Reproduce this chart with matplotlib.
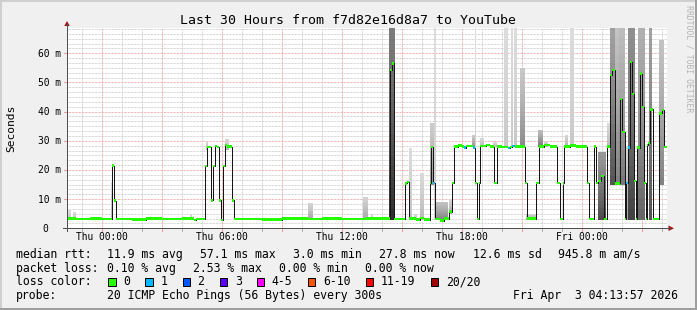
import matplotlib
matplotlib.use("Agg")
import matplotlib.pyplot as plt
import numpy as np
from matplotlib.transforms import blended_transform_factory, offset_copy
from matplotlib.patches import Rectangle, Polygon
from matplotlib.lines import Line2D

W, H = 697, 310

# time in hours since Thu 00:00, window is the last 30 hours before Fri 04:13:57
t_start = -1.767
t_end = 28.233

# median rtt (ms) as steps: start hour, value, lost pings in that step
seg_start = [-1.77, -1.3, -0.6, 0.0, 0.50, 0.58, 0.67, 1.5, 2.2, 3.0, 4.0, 4.6, 4.7,
             5.13, 5.25, 5.42, 5.55, 5.62, 5.72, 5.83, 5.92, 6.02, 6.12, 6.25, 6.47, 6.60,
             8.0, 9.0, 10.3, 11.0, 12.0, 13.2, 14.37, 14.47, 14.60,
             15.12, 15.25, 15.33, 15.7, 15.9, 16.1, 16.37, 16.43, 16.55, 16.62, 16.9, 17.1,
             17.33, 17.50, 17.58, 17.8, 18.0, 18.1, 18.17, 18.55, 18.63, 18.75, 18.83, 18.90,
             19.2, 19.4, 19.58, 19.72, 20.0, 20.3, 20.4, 20.5, 20.65, 21.13, 21.22, 21.67,
             21.83, 22.1, 22.4, 22.75, 22.87, 23.03, 23.08, 23.4, 23.7, 24.25, 24.33, 24.60,
             24.68, 24.80, 24.92, 25.08, 25.25, 25.40, 25.50, 25.63, 25.87, 26.00, 26.12,
             26.17, 26.28, 26.38, 26.50, 26.60, 26.67, 26.75, 26.88, 27.00, 27.10, 27.17,
             27.23, 27.30, 27.37, 27.52, 27.85, 27.97, 28.10]
seg_ms = [3.4, 3.2, 3.3, 3.1, 21.5, 9.5, 3.2, 3.0, 3.3, 3.1, 3.3, 2.9, 3.2,
          21.4, 27.8, 9.6, 21.4, 28.2, 27.8, 9.6, 2.9, 21.4, 28.6, 28.0, 9.6, 3.2,
          3.0, 3.3, 3.1, 3.3, 3.2, 3.4, 54.2, 56.5, 3.2,
          15.4, 15.8, 3.3, 3.0, 3.5, 3.0, 15.5, 27.8, 15.5, 3.2, 2.6, 3.3,
          5.7, 15.5, 28.0, 28.4, 28.0, 27.7, 28.2, 27.7, 15.5, 3.2, 15.5, 28.2,
          28.6, 28.0, 15.5, 28.0, 27.8, 27.5, 27.8, 28.3, 28.0, 15.5, 3.3, 15.5,
          28.0, 28.5, 28.0, 15.5, 3.2, 15.4, 28.0, 28.4, 28.0, 15.5, 3.2, 28.0,
          15.5, 16.2, 17.9, 3.2, 28.0, 52.5, 54.2, 15.4, 44.3, 33.1, 3.2,
          15.5, 27.7, 57.0, 46.0, 16.3, 3.2, 27.7, 53.0, 41.6, 15.6, 3.2,
          28.5, 29.3, 40.8, 3.2, 39.4, 40.5, 27.8]
seg_loss = [0] * len(seg_start)
for i, s in enumerate(seg_start):
    if s in (16.55, 18.1, 18.55, 20.3, 20.5, 26.17, 26.28):
        seg_loss[i] = 1

# smoke (spread of the 20 pings): hours from/to, ms low/high, darkness
smoke_t0 = [-1.7, -1.45, 0.42, 4.4, 5.18, 6.15, 10.3, 13.05, 13.45, 14.34,
            15.33, 15.6, 15.9, 16.37, 16.6, 16.65, 17.33, 18.5, 18.63, 18.9,
            19.55, 20.1, 20.45, 20.6, 20.9, 21.2, 21.8, 22.1, 23.15, 23.4,
            24.8, 25.25, 25.37, 25.63, 25.85, 26.12, 26.3, 26.8, 27.32, 27.85]
smoke_t1 = [-1.55, -1.3, 0.50, 4.5, 5.3, 6.35, 10.55, 13.3, 13.55, 14.63,
            15.5, 15.75, 16.1, 16.58, 16.66, 17.3, 17.5, 18.62, 18.68, 19.1,
            19.75, 20.3, 20.55, 20.75, 21.12, 21.7, 22.05, 22.3, 23.3, 23.6,
            25.2, 25.37, 25.63, 25.85, 26.12, 26.28, 26.62, 27.15, 27.5, 28.1]
smoke_lo = [3, 3, 3, 3, 27, 27, 3, 3, 3, 3,
            3, 3, 3, 15, 3, 3, 5, 28, 15, 28,
            28, 28, 28, 28, 28, 3, 28, 28, 28, 28,
            3, 28, 15, 15, 15, 3, 3, 3, 3, 15]
smoke_hi = [6.3, 5.5, 16, 5, 30, 30.5, 8.5, 10.8, 5, 68.7,
            27.5, 5, 19, 36, 68.7, 9, 10, 32, 68.7, 31,
            29.5, 68.7, 68.7, 68.7, 55, 5, 33.7, 30, 32, 68.7,
            26, 36, 68.7, 68.7, 68.7, 28, 68.7, 68.7, 68.7, 64.5]
smoke_dark = [0.15, 0.2, 0.2, 0.2, 0.2, 0.25, 0.3, 0.3, 0.2, 0.95,
              0.15, 0.2, 0.2, 0.4, 0.1, 0.5, 0.3, 0.4, 0.1, 0.2,
              0.2, 0.12, 0.12, 0.12, 0.45, 0.3, 0.55, 0.2, 0.25, 0.12,
              0.8, 0.2, 0.75, 0.5, 0.55, 0.3, 0.85, 0.65, 0.75, 0.5]

xtick_hours = [0, 6, 12, 18, 24]
xtick_labels = ["Thu 00:00", "Thu 06:00", "Thu 12:00", "Thu 18:00", "Fri 00:00"]
ytick_ms = [0, 10, 20, 30, 40, 50, 60]
ytick_labels = ["0", "10 m", "20 m", "30 m", "40 m", "50 m", "60 m"]
y_top = 68.67

loss_names = ["0", "1", "2", "3", "4-5", "6-10", "11-19", "20/20"]
loss_colors = ["#26ff00", "#00b8ff", "#0059ff", "#5e00ff", "#ff00ff", "#ff5500", "#ff0000", "#a00000"]

rtt_row = [("median rtt:", 16), ("11.9 ms avg", 107.3), ("57.1 ms max", 200), ("3.0 ms min", 293.3),
           ("27.8 ms now", 379.3), ("12.6 ms sd", 473.3), ("945.8 m am/s", 558.3)]
loss_row = [("packet loss:", 16), ("0.10 % avg", 107.3), ("2.53 % max", 193.3),
            ("0.00 % min", 279.3), ("0.00 % now", 365)]
probe_row = [("probe:", 16), ("20 ICMP Echo Pings (56 Bytes) every 300s", 107.3),
             ("Fri Apr  3 04:13:57 2026", 513.3)]

MONO = "DejaVu Sans Mono"
PX = 0.72  # points per pixel at 100 dpi


def fx(x):
    return x / W


def fy(y):
    return 1 - y / H


fig = plt.figure(figsize=(W / 100, H / 100), dpi=100, facecolor="#f0f0f0")

# 3d-ish frame of the canvas
fig.add_artist(Rectangle((0, fy(2)), 1, 2 / H, transform=fig.transFigure, color="#cfcfcf", lw=0))
fig.add_artist(Rectangle((0, 0), fx(2), 1, transform=fig.transFigure, color="#cfcfcf", lw=0))
fig.add_artist(Rectangle((0, 0), 1, 2 / H, transform=fig.transFigure, color="#9e9e9e", lw=0))
fig.add_artist(Rectangle((fx(695), 0), fx(2), 1, transform=fig.transFigure, color="#9e9e9e", lw=0))

ax_l, ax_r, ax_t, ax_b = 67, 667, 28, 228.3
ax = fig.add_axes([fx(ax_l), fy(ax_b), (ax_r - ax_l) / W, (ax_b - ax_t) / H])
ax.set_facecolor("white")
ax.set_xlim(t_start, t_end)
ax.set_ylim(0, y_top)
for sp in ax.spines.values():
    sp.set_visible(False)
ax.set_xticks([])
ax.set_yticks([])

dots = (0, (PX, PX))
# grid
for v in np.arange(10 / 6, y_top, 10 / 6):
    if abs(v / 10 - round(v / 10)) < 1e-6:
        ax.axhline(v, color="#ee9a9a", lw=PX, ls=dots, zorder=1)
    else:
        ax.axhline(v, color="#c8c8c8", lw=PX, ls=dots, zorder=1)
for h in range(int(np.ceil(t_start)), int(t_end) + 1):
    if h % 3 == 0:
        ax.axvline(h, color="#ee9a9a", lw=PX, ls=dots, zorder=1)
    else:
        ax.axvline(h, color="#c8c8c8", lw=PX, ls=dots, zorder=1)

# smoke: layers from the low end (dark) up to the high end (lighter)
n_layers = 18
t0 = np.array(smoke_t0)
t1 = np.array(smoke_t1)
lo = np.array(smoke_lo, float)
hi = np.array(smoke_hi, float)
dark = np.array(smoke_dark)
bot_g = 0.87 - 0.72 * dark
top_g = 0.87 - 0.42 * dark ** 2
for k in range(n_layers):
    f = k / n_layers
    g = top_g + (bot_g - top_g) * (1 - f) ** 1.3
    cols = [(c, c, c) for c in g]
    ax.bar(t0, (hi - lo) / n_layers * 1.05, width=t1 - t0, bottom=lo + (hi - lo) * f,
           align="edge", color=cols, lw=0, zorder=2)

# median line
t = np.array(seg_start + [t_end])
v = np.array(seg_ms + [seg_ms[-1]])
ax.step(t, v, where="post", color="#151515", lw=PX, zorder=3)

# loss-coloured median markers
starts = np.array(seg_start)
widths = np.diff(t)
meds = np.array(seg_ms)
losses = np.array(seg_loss)
half = 0.42
for li in (0, 1):
    m = losses == li
    ax.bar(starts[m], 2 * half, width=widths[m], bottom=meds[m] - half,
           align="edge", color=loss_colors[li], lw=0, zorder=4)

# axes with arrows
axis_col = "#505050"
arrow_col = "#a01818"
fig.add_artist(Line2D([fx(ax_l), fx(ax_l)], [fy(ax_b + 3), fy(24)], color=axis_col, lw=PX,
                      transform=fig.transFigure))
fig.add_artist(Line2D([fx(63), fx(670)], [fy(ax_b), fy(ax_b)], color=axis_col, lw=PX,
                      transform=fig.transFigure))
fig.add_artist(Polygon([(fx(ax_l), fy(21)), (fx(ax_l - 2.8), fy(26)), (fx(ax_l + 2.8), fy(26))],
                       closed=True, transform=fig.transFigure, color=arrow_col, lw=0))
fig.add_artist(Polygon([(fx(674), fy(ax_b)), (fx(668.5), fy(ax_b - 2.8)), (fx(668.5), fy(ax_b + 2.8))],
                       closed=True, transform=fig.transFigure, color=arrow_col, lw=0))

# small ticks outside the axes
tr_x = blended_transform_factory(ax.transData, fig.transFigure)
tr_y = blended_transform_factory(fig.transFigure, ax.transData)
for h in range(int(np.ceil(t_start)), int(t_end) + 1):
    c = "#ee9a9a" if h % 3 == 0 else "#b0b0b0"
    ax.add_artist(Line2D([h, h], [fy(ax_b + 0.5), fy(ax_b + 2.5)], color=c, lw=PX,
                         transform=tr_x, clip_on=False))
for yv in ytick_ms[1:]:
    ax.add_artist(Line2D([fx(64), fx(ax_l)], [yv, yv], color="#ee9a9a", lw=PX,
                         transform=tr_y, clip_on=False))

# tick labels
fs_tick = 9.6 * PX
for h, lab in zip(xtick_hours, xtick_labels):
    ax.text(h, fy(240.5), lab, transform=tr_x, ha="center", va="baseline",
            fontsize=fs_tick, family=MONO, color="#000000")
tr_yl = offset_copy(tr_y, fig=fig, x=0, y=-3.5, units="dots")
for yv, lab in zip(ytick_ms, ytick_labels):
    if yv == 0:
        ax.text(fx(45), yv, lab, transform=tr_yl, ha="center", va="baseline",
                fontsize=fs_tick, family=MONO)
    else:
        ax.text(fx(60.5), yv, lab, transform=tr_yl, ha="right", va="baseline",
                fontsize=fs_tick, family=MONO)

fig.text(fx(11), fy(128), "Seconds", rotation=90, ha="center", va="center",
         fontsize=11.3 * PX, family=MONO)
fig.text(0.5, fy(24), "Last 30 Hours from f7d82e16d8a7 to YouTube", ha="center",
         va="baseline", fontsize=13.3 * PX, family=MONO)
fig.text(fx(688.5), fy(5), "RRDTOOL / TOBI OETIKER", rotation=270, ha="center", va="top",
         fontsize=8.2 * PX, family=MONO, color="#b4b4b4")

# legend rows
fs_leg = 11.53 * PX
for row, base in ((rtt_row, 257.8), (loss_row, 271.6), (probe_row, 299.2)):
    for txt, x in row:
        fig.text(fx(x), fy(base), txt, ha="left", va="baseline", fontsize=fs_leg, family=MONO)

fig.text(fx(16), fy(285.4), "loss color:", ha="left", va="baseline", fontsize=fs_leg, family=MONO)
char_w = 6.94
bx = 108.3
for name, col in zip(loss_names, loss_colors):
    fig.add_artist(Rectangle((fx(bx), fy(286)), 7.4 / W, 7.6 / H, transform=fig.transFigure,
                             facecolor=col, edgecolor="black", lw=PX))
    fig.text(fx(bx + 15), fy(285.4), name, ha="left", va="baseline", fontsize=fs_leg, family=MONO)
    bx = bx + 15 + char_w * len(name) + 15.2

fig.savefig("out.png", dpi=100, facecolor=fig.get_facecolor())
